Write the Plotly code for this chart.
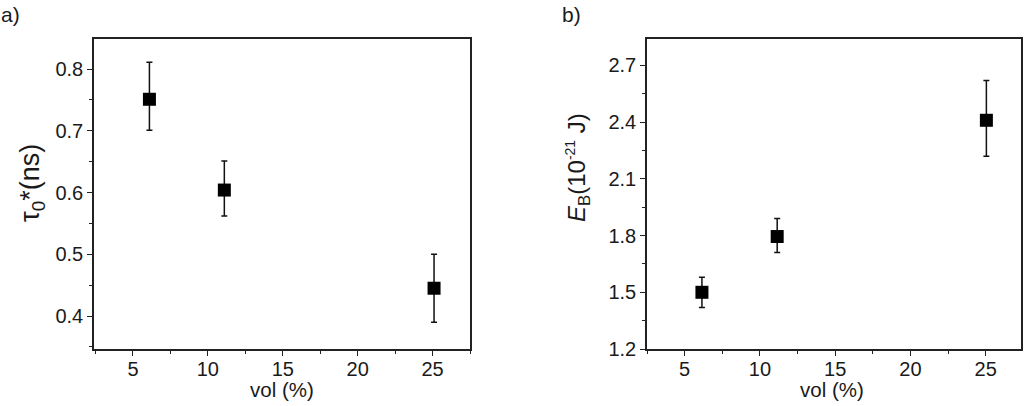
import plotly.graph_objects as go

# Panel a data
vol_a = [6.1, 11.1, 25.1]
tau0 = [0.751, 0.604, 0.445]
tau0_err_plus = [0.06, 0.047, 0.055]
tau0_err_minus = [0.05, 0.042, 0.055]

# Panel b data
vol_b = [6.15, 11.15, 25.05]
eb = [1.50, 1.795, 2.41]
eb_err_plus = [0.08, 0.095, 0.21]
eb_err_minus = [0.08, 0.085, 0.19]

x_ticks = [5, 10, 15, 20, 25]
ya_ticks = [0.4, 0.5, 0.6, 0.7, 0.8]
yb_ticks = [1.2, 1.5, 1.8, 2.1, 2.4, 2.7]

FONT = "Liberation Sans"
TXT = "#1a1a1a"
W, H = 1024, 406


def px(x):
    return x / W


def py(y):
    return 1 - y / H


fig = go.Figure()

marker = dict(symbol="square", size=13, color="black", line=dict(width=0))

fig.add_trace(go.Scatter(
    x=vol_a, y=tau0, mode="markers", marker=marker,
    error_y=dict(type="data", symmetric=False, array=tau0_err_plus,
                 arrayminus=tau0_err_minus, color="#111", thickness=1.5, width=3),
    xaxis="x", yaxis="y", showlegend=False))

fig.add_trace(go.Scatter(
    x=vol_b, y=eb, mode="markers", marker=marker,
    error_y=dict(type="data", symmetric=False, array=eb_err_plus,
                 arrayminus=eb_err_minus, color="#111", thickness=1.5, width=3),
    xaxis="x2", yaxis="y2", showlegend=False))

axis_common = dict(
    showline=True, linecolor="#222", linewidth=1.5, mirror=True,
    ticks="outside", ticklen=5, tickwidth=1.2, tickcolor="#222",
    showgrid=False, zeroline=False, automargin=False,
    tickfont=dict(family=FONT, size=20, color=TXT),
)
xminor = dict(dtick=2.5, tick0=0, ticks="outside", ticklen=3, tickcolor="#222")

fig.update_layout(
    width=W, height=H,
    margin=dict(l=0, r=0, t=0, b=0, autoexpand=False),
    paper_bgcolor="white", plot_bgcolor="white",
    font=dict(family=FONT, color=TXT),
    xaxis=dict(domain=[px(94), px(470)], range=[2.4, 27.5], tickvals=x_ticks,
               anchor="y", minor=xminor, ticklabelstandoff=-4, **axis_common),
    yaxis=dict(domain=[py(349), py(39)], range=[0.3466, 0.8486], tickvals=ya_ticks,
               tickformat=".1f", anchor="x",
               minor=dict(dtick=0.05, tick0=0, ticks="outside", ticklen=3, tickcolor="#222"),
               **axis_common),
    xaxis2=dict(domain=[px(647), px(1021)], range=[2.5, 27.35], tickvals=x_ticks,
                anchor="y2", minor=xminor, ticklabelstandoff=-4, **axis_common),
    yaxis2=dict(domain=[py(349), py(39)], range=[1.2, 2.84], tickvals=yb_ticks,
                tickformat=".1f", anchor="x2",
                minor=dict(dtick=0.15, tick0=0, ticks="outside", ticklen=3, tickcolor="#222"),
                **axis_common),
    annotations=[
        dict(text="a)", x=px(-1), y=py(1), xref="paper", yref="paper",
             xanchor="left", yanchor="top", showarrow=False,
             font=dict(family=FONT, size=21, color=TXT)),
        dict(text="b)", x=px(560), y=py(1), xref="paper", yref="paper",
             xanchor="left", yanchor="top", showarrow=False,
             font=dict(family=FONT, size=21, color=TXT)),
        # x-axis titles
        dict(text="vol (%)", x=px(282), y=py(389), xref="paper", yref="paper",
             xanchor="center", yanchor="middle", showarrow=False,
             font=dict(family=FONT, size=20.5, color=TXT)),
        dict(text="vol (%)", x=px(832), y=py(389), xref="paper", yref="paper",
             xanchor="center", yanchor="middle", showarrow=False,
             font=dict(family=FONT, size=20.5, color=TXT)),
        # y-axis titles
        dict(text="τ<sub>0</sub>*(ns)", x=px(32), y=py(183), xref="paper", yref="paper",
             xanchor="center", yanchor="middle", textangle=-90, showarrow=False,
             font=dict(family=FONT, size=27, color=TXT)),
        dict(text="<i>E</i><sub>B</sub>(10<sup><span style='font-size:14px'>-21</span></sup> J)",
             x=px(578), y=py(168), xref="paper", yref="paper",
             xanchor="center", yanchor="middle", textangle=-90, showarrow=False,
             font=dict(family=FONT, size=24, color=TXT)),
    ],
)

fig.write_html("out.html", config={"displayModeBar": False},
               post_script="document.body.style.margin='0';document.body.style.overflow='hidden';")
